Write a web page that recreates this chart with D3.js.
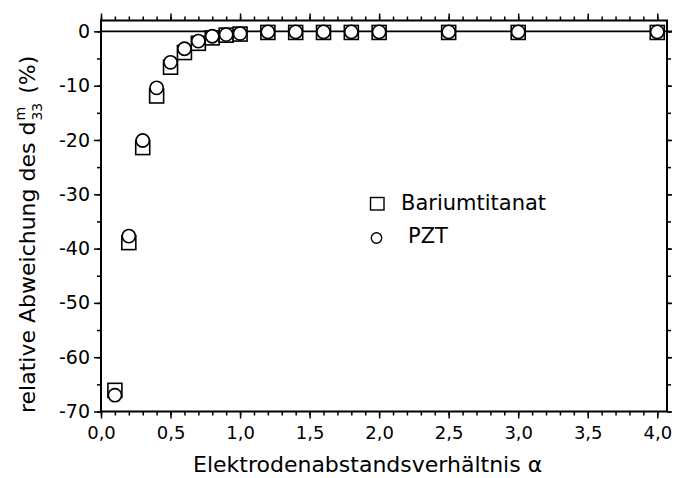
<!DOCTYPE html>
<html>
<head>
<meta charset="utf-8">
<script src="https://cdn.jsdelivr.net/npm/d3@7"></script>
<style>
  html, body { margin: 0; padding: 0; background: #fff; }
  svg { display: block; }
  text { font-family: "DejaVu Sans", sans-serif; fill: #000; }
</style>
</head>
<body>
<svg id="chart" width="674" height="478"></svg>
<script>
// Electrode spacing ratio alpha
const alphaValues = [0.1, 0.2, 0.3, 0.4, 0.5, 0.6, 0.7, 0.8, 0.9, 1.0, 1.2, 1.4, 1.6, 1.8, 2.0, 2.5, 3.0, 4.0];
// Relative deviation of d33m in percent
const bariumtitanat = [-66.1, -38.9, -21.4, -11.9, -6.6, -3.9, -2.2, -1.2, -0.7, -0.5, -0.2, -0.2, -0.2, -0.2, -0.2, -0.2, -0.2, -0.2];
const pzt = [-67.0, -37.7, -20.1, -10.4, -5.7, -3.2, -1.8, -0.9, -0.6, -0.4, -0.1, -0.1, -0.1, -0.1, -0.1, -0.1, -0.1, -0.1];
const xTickValues = [0, 0.5, 1, 1.5, 2, 2.5, 3, 3.5, 4];
const yTickValues = [0, -10, -20, -30, -40, -50, -60, -70];
const seriesNames = ["Bariumtitanat", "PZT"];

const svg = d3.select("#chart");
const margin = { left: 101, right: 7, top: 20.5, bottom: 66.5 };
const W = 674, H = 478;

const x = d3.scaleLinear().domain([0, 4.07]).range([margin.left, W - margin.right]);
const y = d3.scaleLinear().domain([-70, 2]).range([H - margin.bottom, margin.top]);

const fmtX = d => d3.format(".1f")(d).replace(".", ",");
const fmtY = d => String(d);   // plain hyphen for negatives
const xMinor = d3.range(0, 4.0001, 0.1).map(v => +v.toFixed(2));
const yMinor = d3.range(-70, 0.001, 5);

// minor ticks
svg.append("g").attr("transform", `translate(0,${y.range()[0]})`)
  .call(d3.axisBottom(x).tickValues(xMinor).tickSize(4).tickFormat(""))
  .call(g => g.select(".domain").remove());
svg.append("g").attr("transform", `translate(0,${y.range()[1]})`)
  .call(d3.axisTop(x).tickValues(xMinor).tickSize(4).tickFormat(""))
  .call(g => g.select(".domain").remove());
svg.append("g").attr("transform", `translate(${x.range()[0]},0)`)
  .call(d3.axisLeft(y).tickValues(yMinor).tickSize(4).tickFormat(""))
  .call(g => g.select(".domain").remove());
svg.append("g").attr("transform", `translate(${x.range()[1]},0)`)
  .call(d3.axisRight(y).tickValues(yMinor).tickSize(4).tickFormat(""))
  .call(g => g.select(".domain").remove());

// major ticks with labels
const xAxis = svg.append("g").attr("transform", `translate(0,${y.range()[0]})`)
  .call(d3.axisBottom(x).tickValues(xTickValues).tickSize(7).tickPadding(8).tickFormat(fmtX))
  .call(g => g.select(".domain").remove());
xAxis.selectAll("text").attr("font-size", 18).style("font-family", "DejaVu Sans");
svg.append("g").attr("transform", `translate(0,${y.range()[1]})`)
  .call(d3.axisTop(x).tickValues(xTickValues).tickSize(7).tickFormat(""))
  .call(g => g.select(".domain").remove());
const yAxis = svg.append("g").attr("transform", `translate(${x.range()[0]},0)`)
  .call(d3.axisLeft(y).tickValues(yTickValues).tickSize(7).tickPadding(4).tickFormat(fmtY))
  .call(g => g.select(".domain").remove());
yAxis.selectAll("text").attr("font-size", 19).style("font-family", "DejaVu Sans");
svg.append("g").attr("transform", `translate(${x.range()[1]},0)`)
  .call(d3.axisRight(y).tickValues(yTickValues).tickSize(5).tickFormat(""))
  .call(g => g.select(".domain").remove());

svg.selectAll(".tick line").attr("stroke", "#000").attr("stroke-width", 1.5);

// frame
svg.append("rect")
  .attr("x", x.range()[0]).attr("y", y.range()[1])
  .attr("width", x.range()[1] - x.range()[0])
  .attr("height", y.range()[0] - y.range()[1])
  .attr("fill", "none").attr("stroke", "#000").attr("stroke-width", 2);

// zero reference line
svg.append("line")
  .attr("x1", x.range()[0]).attr("x2", x.range()[1] + 5)
  .attr("y1", y(0)).attr("y2", y(0))
  .attr("stroke", "#000").attr("stroke-width", 1.6);

const rows = alphaValues.map((a, i) => ({ a, bt: bariumtitanat[i], pzt: pzt[i] }));
const sq = 14, r = 6.6;

svg.append("g").selectAll("rect").data(rows).join("rect")
  .attr("x", d => x(d.a) - sq / 2).attr("y", d => y(d.bt) - sq / 2)
  .attr("width", sq).attr("height", sq)
  .attr("fill", "#fff").attr("stroke", "#000").attr("stroke-width", 1.6);

svg.append("g").selectAll("circle").data(rows).join("circle")
  .attr("cx", d => x(d.a)).attr("cy", d => y(d.pzt)).attr("r", r)
  .attr("fill", "#fff").attr("stroke", "#000").attr("stroke-width", 1.6);

// legend
const lg = svg.append("g");
lg.append("rect").attr("x", 370.5).attr("y", 197.5).attr("width", 13.5).attr("height", 12.5)
  .attr("fill", "#fff").attr("stroke", "#000").attr("stroke-width", 1.4);
lg.append("text").attr("x", 401).attr("y", 210).attr("font-size", 21).text(seriesNames[0]);
lg.append("circle").attr("cx", 376.5).attr("cy", 238).attr("r", 5.2)
  .attr("fill", "#fff").attr("stroke", "#000").attr("stroke-width", 1.4);
lg.append("text").attr("x", 408).attr("y", 243).attr("font-size", 21).text(seriesNames[1]);

// x axis title
svg.append("text").attr("x", 193).attr("y", 472).attr("font-size", 22)
  .text("Elektrodenabstandsverhältnis α");

// y axis title with d^m_33
const yt = svg.append("g").attr("transform", "translate(35,413) rotate(-90)");
const t1 = yt.append("text").attr("x", 0).attr("y", 0).attr("font-size", 22)
  .text("relative Abweichung des d");
const L1 = t1.node().getComputedTextLength();
const sup = yt.append("text").attr("x", L1 + 1).attr("y", -10).attr("font-size", 14).text("m");
const sub = yt.append("text").attr("x", L1 + 1).attr("y", 7).attr("font-size", 14).text("33");
const L2 = Math.max(sup.node().getComputedTextLength(), sub.node().getComputedTextLength());
yt.append("text").attr("x", L1 + L2 + 10).attr("y", 0).attr("font-size", 22).text("(%)");
</script>
</body>
</html>
